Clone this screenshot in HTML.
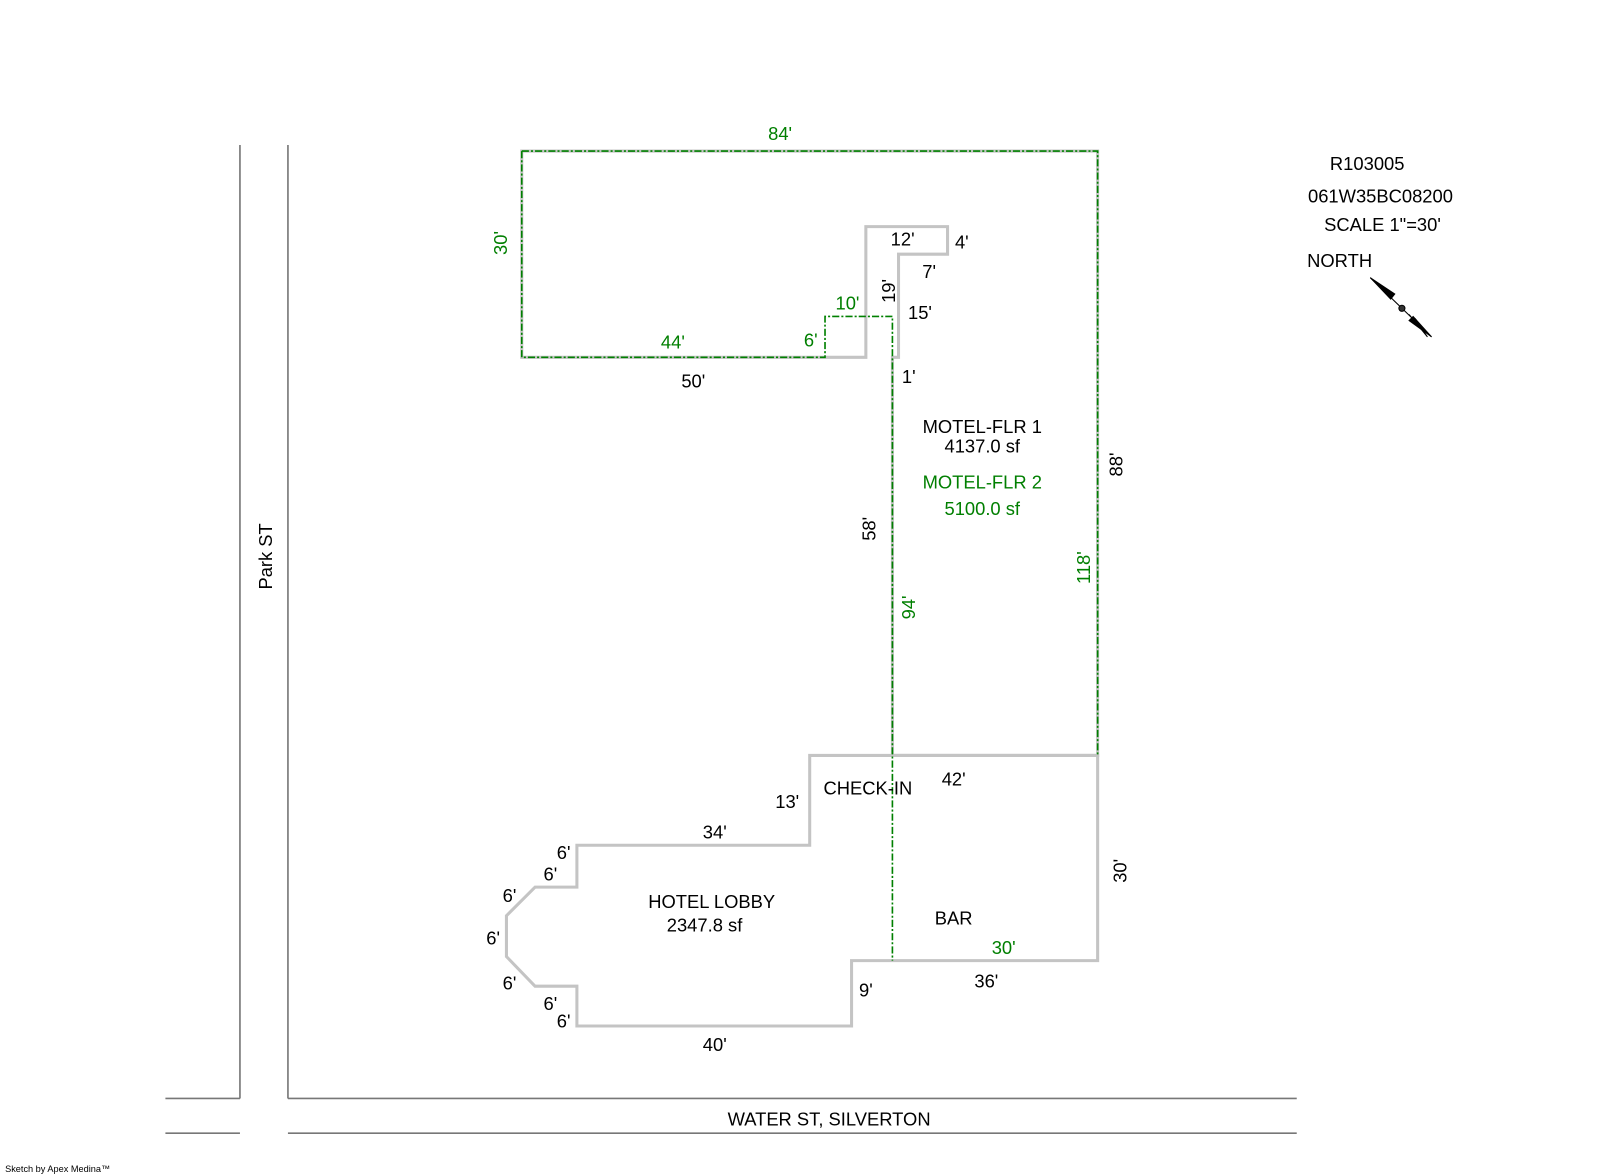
<!DOCTYPE html>
<html><head><meta charset="utf-8"><style>
html,body{margin:0;padding:0;background:#fff;}
svg{display:block;}
text{font-family:"Liberation Sans",Arial,sans-serif;font-size:18px;text-anchor:middle;dominant-baseline:central;fill:#000;}
.g{fill:#007f00;}
</style></head><body>
<svg width="1600" height="1174" viewBox="0 0 1567 1150" preserveAspectRatio="none" xmlns="http://www.w3.org/2000/svg">
<g stroke="#777" stroke-width="1.6" fill="none">
<line x1="235" y1="142" x2="235" y2="1076"/>
<line x1="282" y1="142" x2="282" y2="1076"/>
<line x1="162" y1="1076" x2="235" y2="1076"/>
<line x1="282" y1="1076" x2="1270" y2="1076"/>
<line x1="162" y1="1110" x2="235" y2="1110"/>
<line x1="282" y1="1110" x2="1270" y2="1110"/>
</g>
<g stroke="#c4c4c4" stroke-width="3" fill="none" stroke-linejoin="miter">
<path d="M511,148 L1075,148 L1075,740 L874,740 L874,350 L880,350 L880,249 L928,249 L928,222 L848,222 L848,350 L511,350 Z"/>
<path d="M793,740 L1075,740 L1075,941 L834,941 L834,1005 L565,1005 L565,966 L524,966 L496,937 L496,897 L524,869 L565,869 L565,828 L793,828 Z"/>
</g>
<g stroke="#008000" stroke-width="1.6" fill="none" stroke-dasharray="7,2,2,2">
<path d="M511,148 L1075,148 L1075,740"/>
<path d="M511,148 L511,350 L808,350 L808,310 L874,310 L874,941"/>
</g>
<text x="260" y="545" transform="rotate(-90 260 545)">Park ST</text>
<text x="812" y="1096">WATER ST, SILVERTON</text>
<text class="g" x="764" y="131">84'</text>
<text class="g" x="490" y="238" transform="rotate(-90 490 238)">30'</text>
<text class="g" x="659" y="335">44'</text>
<text class="g" x="794" y="333">6'</text>
<text class="g" x="830" y="297">10'</text>
<text class="g" x="890" y="595" transform="rotate(-90 890 595)">94'</text>
<text class="g" x="1061" y="556" transform="rotate(-90 1061 556)">118'</text>
<text class="g" x="983" y="928">30'</text>
<text class="g" x="962" y="472">MOTEL-FLR 2</text>
<text class="g" x="962" y="498">5100.0 sf</text>
<text x="884" y="234">12'</text>
<text x="942" y="237">4'</text>
<text x="910" y="266">7'</text>
<text x="870" y="285" transform="rotate(-90 870 285)">19'</text>
<text x="901" y="306">15'</text>
<text x="890" y="369">1'</text>
<text x="679" y="373">50'</text>
<text x="962" y="418">MOTEL-FLR 1</text>
<text x="962" y="437">4137.0 sf</text>
<text x="1093" y="455" transform="rotate(-90 1093 455)">88'</text>
<text x="851" y="518" transform="rotate(-90 851 518)">58'</text>
<text x="934" y="763">42'</text>
<text x="850" y="772">CHECK-IN</text>
<text x="771" y="785">13'</text>
<text x="700" y="815">34'</text>
<text x="552" y="835">6'</text>
<text x="539" y="856">6'</text>
<text x="499" y="877">6'</text>
<text x="483" y="919">6'</text>
<text x="499" y="963">6'</text>
<text x="539" y="983">6'</text>
<text x="552" y="1000">6'</text>
<text x="697" y="883">HOTEL LOBBY</text>
<text x="690" y="906">2347.8 sf</text>
<text x="934" y="899">BAR</text>
<text x="848" y="970">9'</text>
<text x="966" y="961">36'</text>
<text x="700" y="1023">40'</text>
<text x="1097" y="853" transform="rotate(-90 1097 853)">30'</text>
<text x="1339" y="160">R103005</text>
<text x="1352" y="192">061W35BC08200</text>
<text x="1354" y="220">SCALE 1"=30'</text>
<text x="1312" y="255">NORTH</text>
<g stroke="#000" stroke-width="1" fill="none">
<line x1="1342" y1="272" x2="1402" y2="330"/>
<path d="M1342,272 L1366,288 L1362,293 Z" fill="#000"/>
<path d="M1402,330 L1384,310 L1380,314 Z" fill="#000"/>
<path d="M1380,308 L1398,330 L1386,312"/>
<circle cx="1373" cy="302" r="3" fill="#333"/>
</g>
<text x="5" y="1145" style="font-size:9px;text-anchor:start">Sketch by Apex Medina™</text>
</svg>
</body></html>
